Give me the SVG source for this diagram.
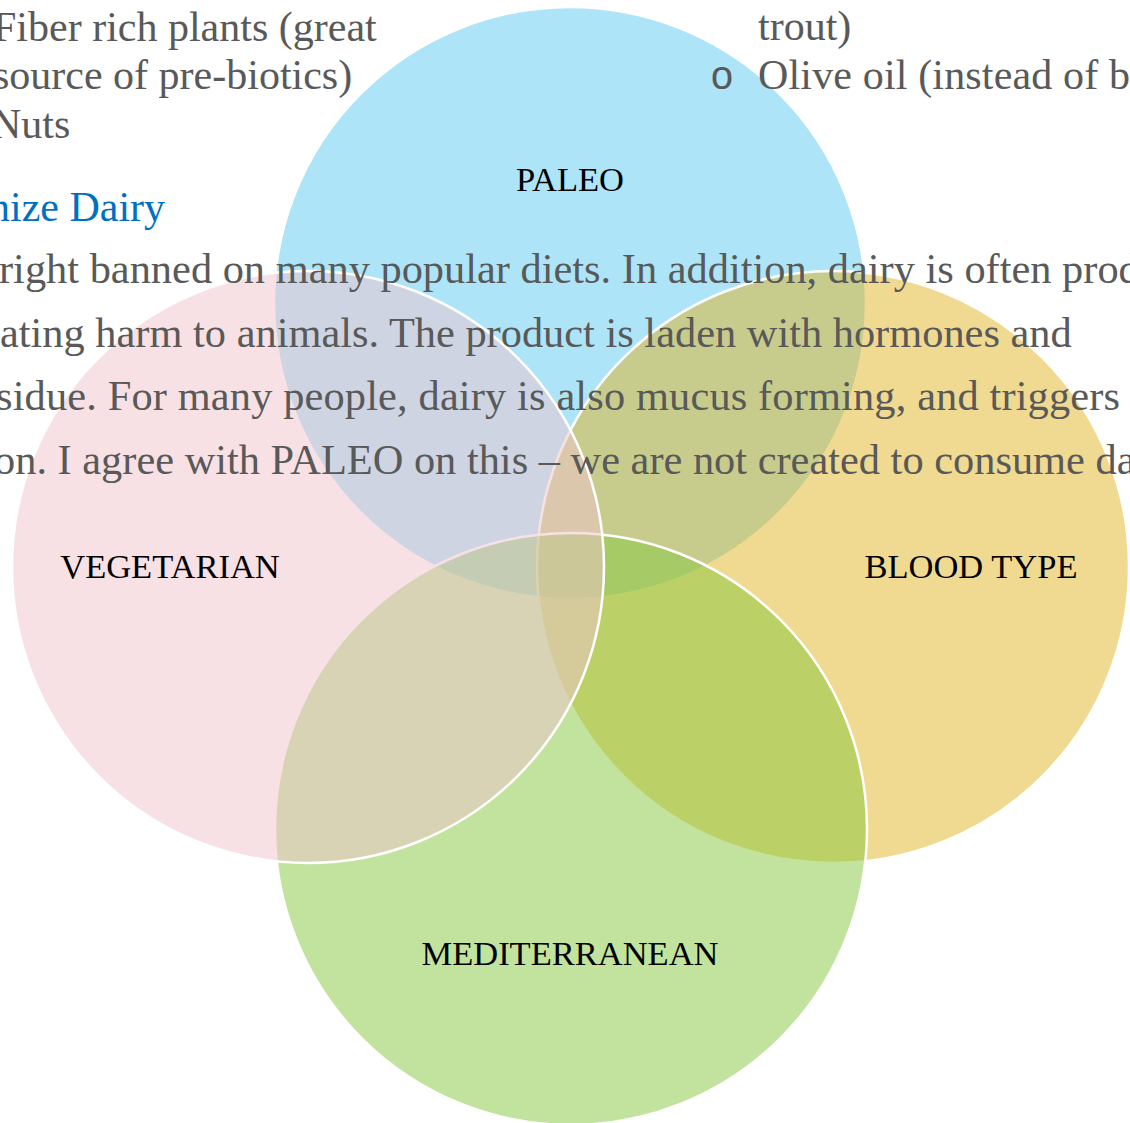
<svg xmlns="http://www.w3.org/2000/svg" width="1130" height="1123" viewBox="0 0 1130 1123">
  <style>
    .c { stroke: #FFFFFF; stroke-width: 2.5; fill-opacity: 0.5; }
    .body { font-family: "Liberation Serif", "Times New Roman", serif; font-size: 42px; fill: #595959; }
    .para { font-family: "Liberation Serif", "Times New Roman", serif; font-size: 42.4px; fill: #595959; }
    .bullet { font-family: "Liberation Mono", "Courier New", monospace; font-size: 40px; fill: #595959; }
    .head { font-family: "Liberation Serif", "Times New Roman", serif; font-size: 42px; fill: #0070C0; }
    .lbl { font-family: "Liberation Serif", "Times New Roman", serif; font-size: 34.5px; fill: #000000; text-anchor: middle; }
  </style>
  <rect width="1130" height="1123" fill="#FFFFFF"/>
  <g id="paleo">
    <circle class="c" cx="570" cy="303" r="296" fill="#5BC9EF"/>
  </g>
  <g id="blood-type">
    <circle class="c" cx="833" cy="567" r="296" fill="#E1B323"/>
  </g>
  <g id="mediterranean">
    <circle class="c" cx="571" cy="829" r="296" fill="#85C73D"/>
  </g>
  <g id="vegetarian">
    <circle class="c" cx="308" cy="567" r="296" fill="#EFC3CB"/>
  </g>
  <g id="connectors"></g>
  <g id="document-text">
    <text class="body" x="-7" y="41">Fiber rich plants (great</text>
    <text class="body" x="-7" y="89">source of pre-biotics)</text>
    <text class="body" x="-9" y="138">Nuts</text>
    <text class="head" x="-11" y="221">nize Dairy</text>
    <text class="para" x="-1" y="283">right banned on many popular diets. In addition, dairy is often produced</text>
    <text class="para" x="0" y="347">ating harm to animals. The product is laden with hormones and</text>
    <text class="para" x="-4" y="410" textLength="1124" lengthAdjust="spacing">sidue. For many people, dairy is also mucus forming, and triggers</text>
    <text class="para" x="-6" y="474">on. I agree with PALEO on this – we are not created to consume dairy</text>
    <text class="body" x="758" y="40">trout)</text>
    <text class="bullet" x="710" y="89">o</text>
    <text class="body" x="758" y="89" textLength="372" lengthAdjust="spacing">Olive oil (instead of b</text>
  </g>
  <g id="labels">
    <text class="lbl" x="570" y="191">PALEO</text>
    <text class="lbl" x="170" y="578">VEGETARIAN</text>
    <text class="lbl" x="971" y="578">BLOOD TYPE</text>
    <text class="lbl" x="570" y="965">MEDITERRANEAN</text>
  </g>
</svg>
